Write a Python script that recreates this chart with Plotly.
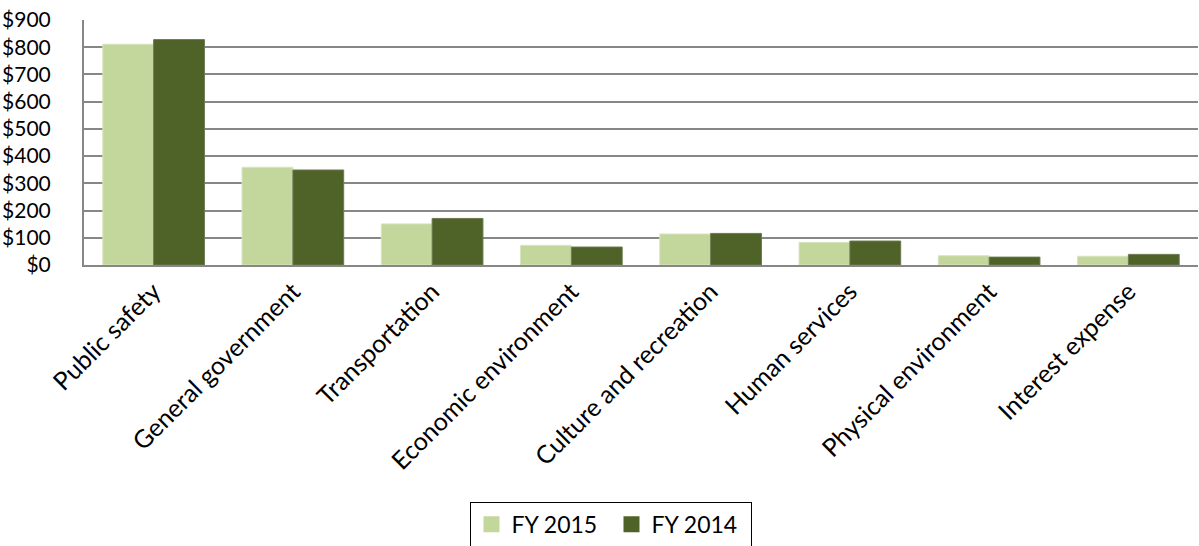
import plotly.graph_objects as go

categories = ["Public safety", "General government", "Transportation", "Economic environment",
              "Culture and recreation", "Human services", "Physical environment", "Interest expense"]
fy2015 = [811, 359, 151, 72, 114, 83, 34, 32]
fy2014 = [828, 349, 171, 66, 116, 88, 29, 39]
tick_vals = [0, 100, 200, 300, 400, 500, 600, 700, 800, 900]
tick_text = ["$0", "$100", "$200", "$300", "$400", "$500", "$600", "$700", "$800", "$900"]
series_names = ["FY 2015", "FY 2014"]
colors = ["#C3D69B", "#4F6228"]

FONT = "Lato, Carlito, Calibri, sans-serif"

fig = go.Figure()
fig.add_trace(go.Bar(name=series_names[0], x=categories, y=fy2015, showlegend=False,
                     marker=dict(color=colors[0], line=dict(color="#D7E4BD", width=1))))
fig.add_trace(go.Bar(name=series_names[1], x=categories, y=fy2014, showlegend=False,
                     marker=dict(color=colors[1], line=dict(color="#6B7A50", width=1))))
# legend entries with larger square swatches
for name, c in zip(series_names, colors):
    fig.add_trace(go.Scatter(name=name, x=[None], y=[None], mode="markers",
                             marker=dict(symbol="square", size=17, color=c)))

fig.update_layout(
    width=1199, height=546,
    margin=dict(l=84, r=1, t=20, b=281),
    paper_bgcolor="white", plot_bgcolor="white",
    barmode="group", bargap=0.27, bargroupgap=0,
    font=dict(family=FONT, size=24, color="black"),
    showlegend=True,
    legend=dict(orientation="h", xref="container", yref="container",
                x=0.51, xanchor="center", y=0.081, yanchor="top",
                bordercolor="black", borderwidth=1, bgcolor="white",
                font=dict(family=FONT, size=23, color="black"),
                itemsizing="trace", traceorder="normal", itemwidth=30,
                entrywidth=95),
)
fig.update_yaxes(range=[0, 900], tickvals=tick_vals, ticktext=tick_text,
                 showgrid=True, gridcolor="#878787", gridwidth=2,
                 showline=True, linecolor="#878787", linewidth=2,
                 zeroline=False, ticks="", ticklabelstandoff=27, automargin=False,
                 tickfont=dict(family=FONT, size=21, color="black"))
fig.update_xaxes(showline=True, linecolor="#878787", linewidth=2, tickangle=-45,
                 ticks="", automargin=False, ticklabelstandoff=0,
                 tickfont=dict(family=FONT, size=25, color="black"))

fig.write_html("out.html", config={"displayModeBar": False},
               post_script="document.body.style.margin='0';")
